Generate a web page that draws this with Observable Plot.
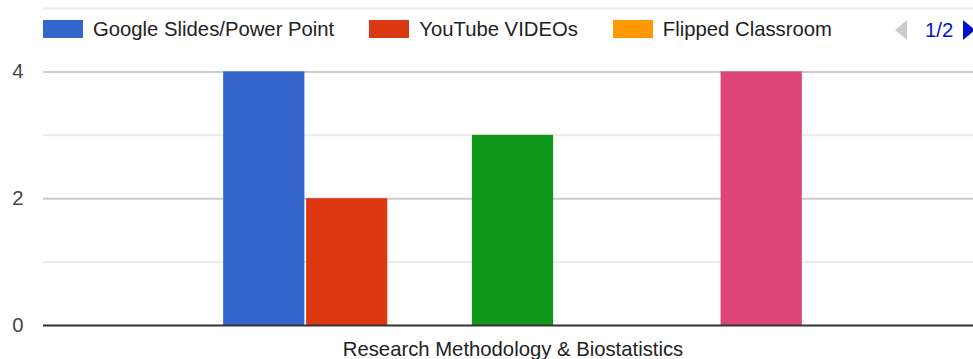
<!DOCTYPE html>
<html><head><meta charset="utf-8">
<script src="https://cdn.jsdelivr.net/npm/d3@7"></script>
<script src="https://cdn.jsdelivr.net/npm/@observablehq/plot@0.6"></script>
<style>
html,body{margin:0;padding:0;background:#fff;overflow:hidden;width:973px;height:359px}
#wrap{position:relative;width:973px;height:359px;overflow:hidden;font-family:"Liberation Sans",Arial,sans-serif}
#chart{position:absolute;left:0;top:0;width:982px}
#chart svg{max-width:none !important}
#legend{position:absolute;left:43px;top:20px;display:flex;align-items:center;font-size:20.3px;line-height:18px;color:#222;white-space:nowrap}
.item{display:flex;align-items:center;margin-right:35px}
.sw{width:40px;height:18px;margin-right:10px}
#pager{position:absolute;left:895px;top:20px;display:flex;align-items:center;font-size:20.3px;line-height:19px;color:#0011cc;white-space:nowrap}
.tl{width:0;height:0;border-top:10px solid transparent;border-bottom:10px solid transparent;border-right:12px solid #cccccc;margin-right:18px}
.tr{width:0;height:0;border-top:10px solid transparent;border-bottom:10px solid transparent;border-left:12px solid #0011cc;margin-left:10px}
</style></head>
<body><div id="wrap"><div id="chart"></div><div id="legend"></div><div id="pager"></div></div>
<script>
const category = "Research Methodology & Biostatistics";
const series = ["Google Slides/Power Point","YouTube VIDEOs","Flipped Classroom","Series 4","Series 5","Series 6","Series 7"];
const values = [4, 2, 0, 3, 0, 0, 4];
const colors = ["#3366cc","#dc3912","#ff9900","#109618","#990099","#0099c6","#dd4477"];
const majorTicks = [0, 2, 4];
const minorTicks = [1, 3, 5];
const legendPage = "1/2";
const legendCount = 3;

const data = series.map((s, i) => ({category, series: s, value: values[i]}));

const chart = Plot.plot({
  width: 982, height: 359,
  marginLeft: 43, marginRight: 0, marginTop: 8, marginBottom: 34,
  style: {fontFamily: "'Liberation Sans', Arial, sans-serif", fontSize: "20.3px", background: "transparent", overflow: "visible", maxWidth: "none"},
  fx: {domain: [category], padding: 0, round: false, label: null},
  x: {domain: series, paddingInner: 0.02, paddingOuter: 2.173, round: false, axis: null},
  y: {domain: [0, 5], axis: null},
  color: {domain: series, range: colors},
  marks: [
    Plot.ruleY(minorTicks, {stroke: "#ebebeb", strokeWidth: 2}),
    Plot.ruleY(majorTicks.filter(d => d > 0), {stroke: "#cccccc", strokeWidth: 2}),
    Plot.barY(data, {fx: "category", x: "series", y: "value", fill: "series", inset: 0}),
    Plot.ruleY([0], {stroke: "#333333", strokeWidth: 2}),
    Plot.axisY(majorTicks, {tickSize: 0, tickPadding: 20, tickFormat: d3.format("d"), fill: "#444444", fontSize: 20.3, label: null}),
    Plot.axisFx({anchor: "bottom", tickSize: 0, tickPadding: 16, label: null, fill: "#222222", fontSize: 20.3})
  ]
});
chart.style.maxWidth = "none";
document.getElementById("chart").appendChild(chart);

const legend = document.getElementById("legend");
series.slice(0, legendCount).forEach((s, i) => {
  const it = document.createElement("div"); it.className = "item";
  const sw = document.createElement("div"); sw.className = "sw"; sw.style.background = colors[i];
  const tx = document.createElement("span"); tx.textContent = s;
  it.appendChild(sw); it.appendChild(tx); legend.appendChild(it);
});
const pager = document.getElementById("pager");
pager.innerHTML = '<div class="tl"></div><span></span><div class="tr"></div>';
pager.querySelector("span").textContent = legendPage;
</script></body></html>
